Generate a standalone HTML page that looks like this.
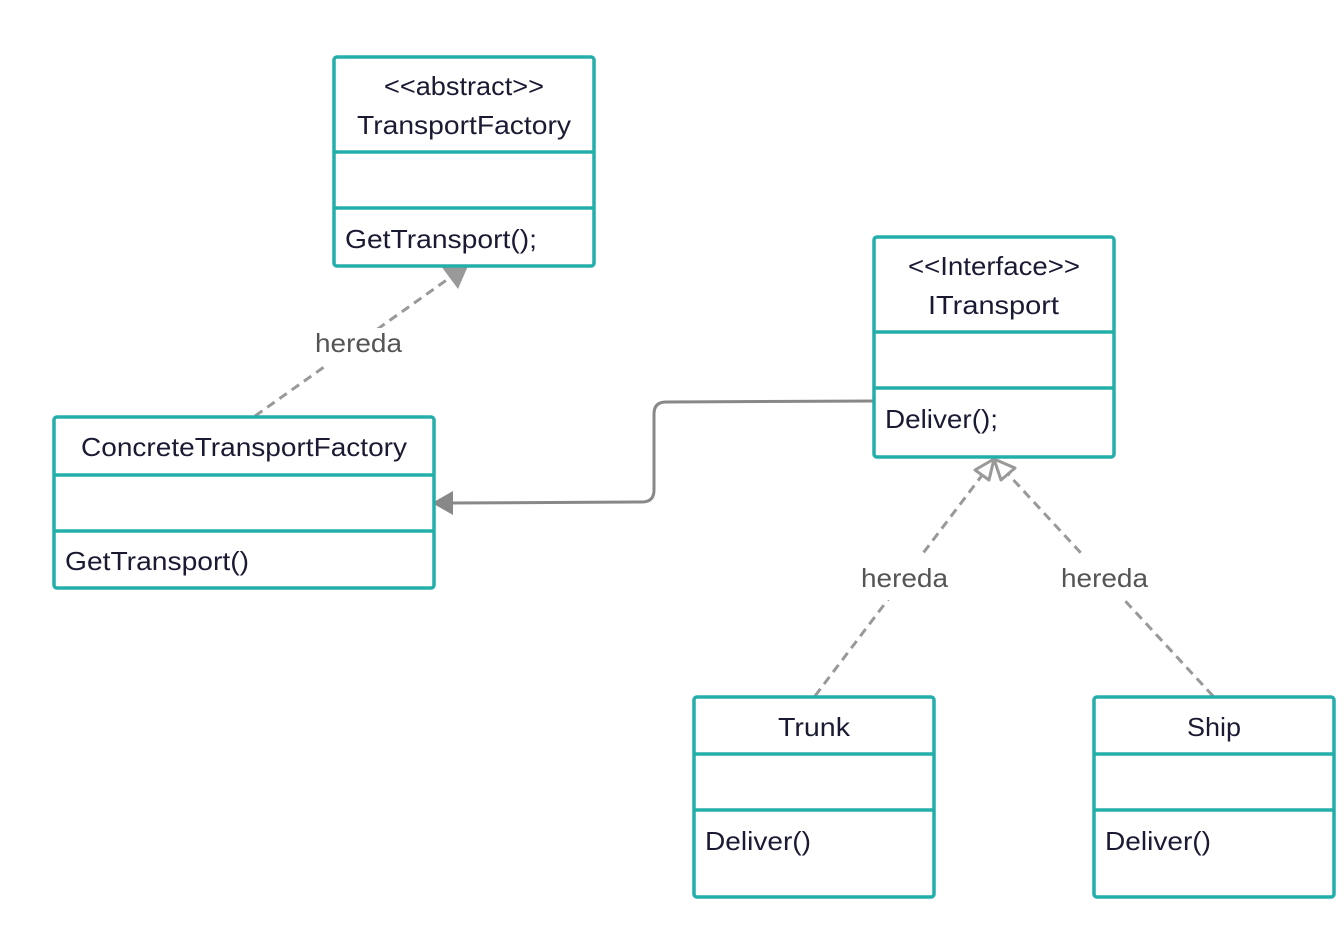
<!DOCTYPE html>
<html><head><meta charset="utf-8"><style>html,body{margin:0;padding:0;background:#fff}svg{display:block}</style></head>
<body>
<svg width="1344" height="935" viewBox="0 0 1344 935" xmlns="http://www.w3.org/2000/svg" font-family="Liberation Sans, sans-serif" font-size="26">
<g fill="none" stroke="#999" stroke-width="3" stroke-dasharray="9,6">
<line x1="255" y1="416" x2="448" y2="279"/>
<line x1="815" y1="696" x2="983" y2="474"/>
<line x1="1213" y1="696" x2="1007" y2="473"/>
</g>
<path d="M474,252 L458,289 L441,266 Z" fill="#999"/>
<path d="M994,459 L989,480 L975,470 Z M994,459 L1001,480 L1015,468 Z" fill="#fff" stroke="#999" stroke-width="3" stroke-linejoin="round"/>
<path d="M874,401 L666,402 Q654,402 654,414 L654,490 Q654,502 642,502 L450,503" fill="none" stroke="#888" stroke-width="3"/>
<path d="M432,503 L453,491 L453,515 Z" fill="#888"/>
<g fill="#fff"><rect x="312" y="328" width="94" height="38"/><rect x="856" y="554" width="96" height="46"/><rect x="1056" y="554" width="96" height="46"/></g>
<g fill="#555">
<text x="315" y="352" textLength="87" lengthAdjust="spacingAndGlyphs">hereda</text>
<text x="861" y="587" textLength="87" lengthAdjust="spacingAndGlyphs">hereda</text>
<text x="1061" y="587" textLength="87" lengthAdjust="spacingAndGlyphs">hereda</text>
</g>
<g fill="#fff" stroke="#24aeaa" stroke-width="3.5">
<rect x="334" y="57" width="260" height="209" rx="3"/><line x1="334" y1="152" x2="594" y2="152"/><line x1="334" y1="208" x2="594" y2="208"/>
<rect x="874" y="237" width="240" height="220" rx="3"/><line x1="874" y1="332" x2="1114" y2="332"/><line x1="874" y1="388" x2="1114" y2="388"/>
<rect x="54" y="417" width="380" height="171" rx="3"/><line x1="54" y1="475" x2="434" y2="475"/><line x1="54" y1="531" x2="434" y2="531"/>
<rect x="694" y="697" width="240" height="200" rx="3"/><line x1="694" y1="754" x2="934" y2="754"/><line x1="694" y1="810" x2="934" y2="810"/>
<rect x="1094" y="697" width="240" height="200" rx="3"/><line x1="1094" y1="754" x2="1334" y2="754"/><line x1="1094" y1="810" x2="1334" y2="810"/>
</g>
<g fill="#1a1a33">
<text x="384" y="95" textLength="160" lengthAdjust="spacingAndGlyphs">&lt;&lt;abstract&gt;&gt;</text>
<text x="357" y="134" textLength="214" lengthAdjust="spacingAndGlyphs">TransportFactory</text>
<text x="345" y="248" textLength="192" lengthAdjust="spacingAndGlyphs">GetTransport();</text>
<text x="908" y="275" textLength="172" lengthAdjust="spacingAndGlyphs">&lt;&lt;Interface&gt;&gt;</text>
<text x="928" y="314" textLength="131" lengthAdjust="spacingAndGlyphs">ITransport</text>
<text x="885" y="428" textLength="113" lengthAdjust="spacingAndGlyphs">Deliver();</text>
<text x="81" y="456" textLength="326" lengthAdjust="spacingAndGlyphs">ConcreteTransportFactory</text>
<text x="65" y="570" textLength="184" lengthAdjust="spacingAndGlyphs">GetTransport()</text>
<text x="778" y="736" textLength="72" lengthAdjust="spacingAndGlyphs">Trunk</text>
<text x="1187" y="736" textLength="54" lengthAdjust="spacingAndGlyphs">Ship</text>
<text x="705" y="850" textLength="106" lengthAdjust="spacingAndGlyphs">Deliver()</text>
<text x="1105" y="850" textLength="106" lengthAdjust="spacingAndGlyphs">Deliver()</text>
</g>
</svg>
</body></html>
